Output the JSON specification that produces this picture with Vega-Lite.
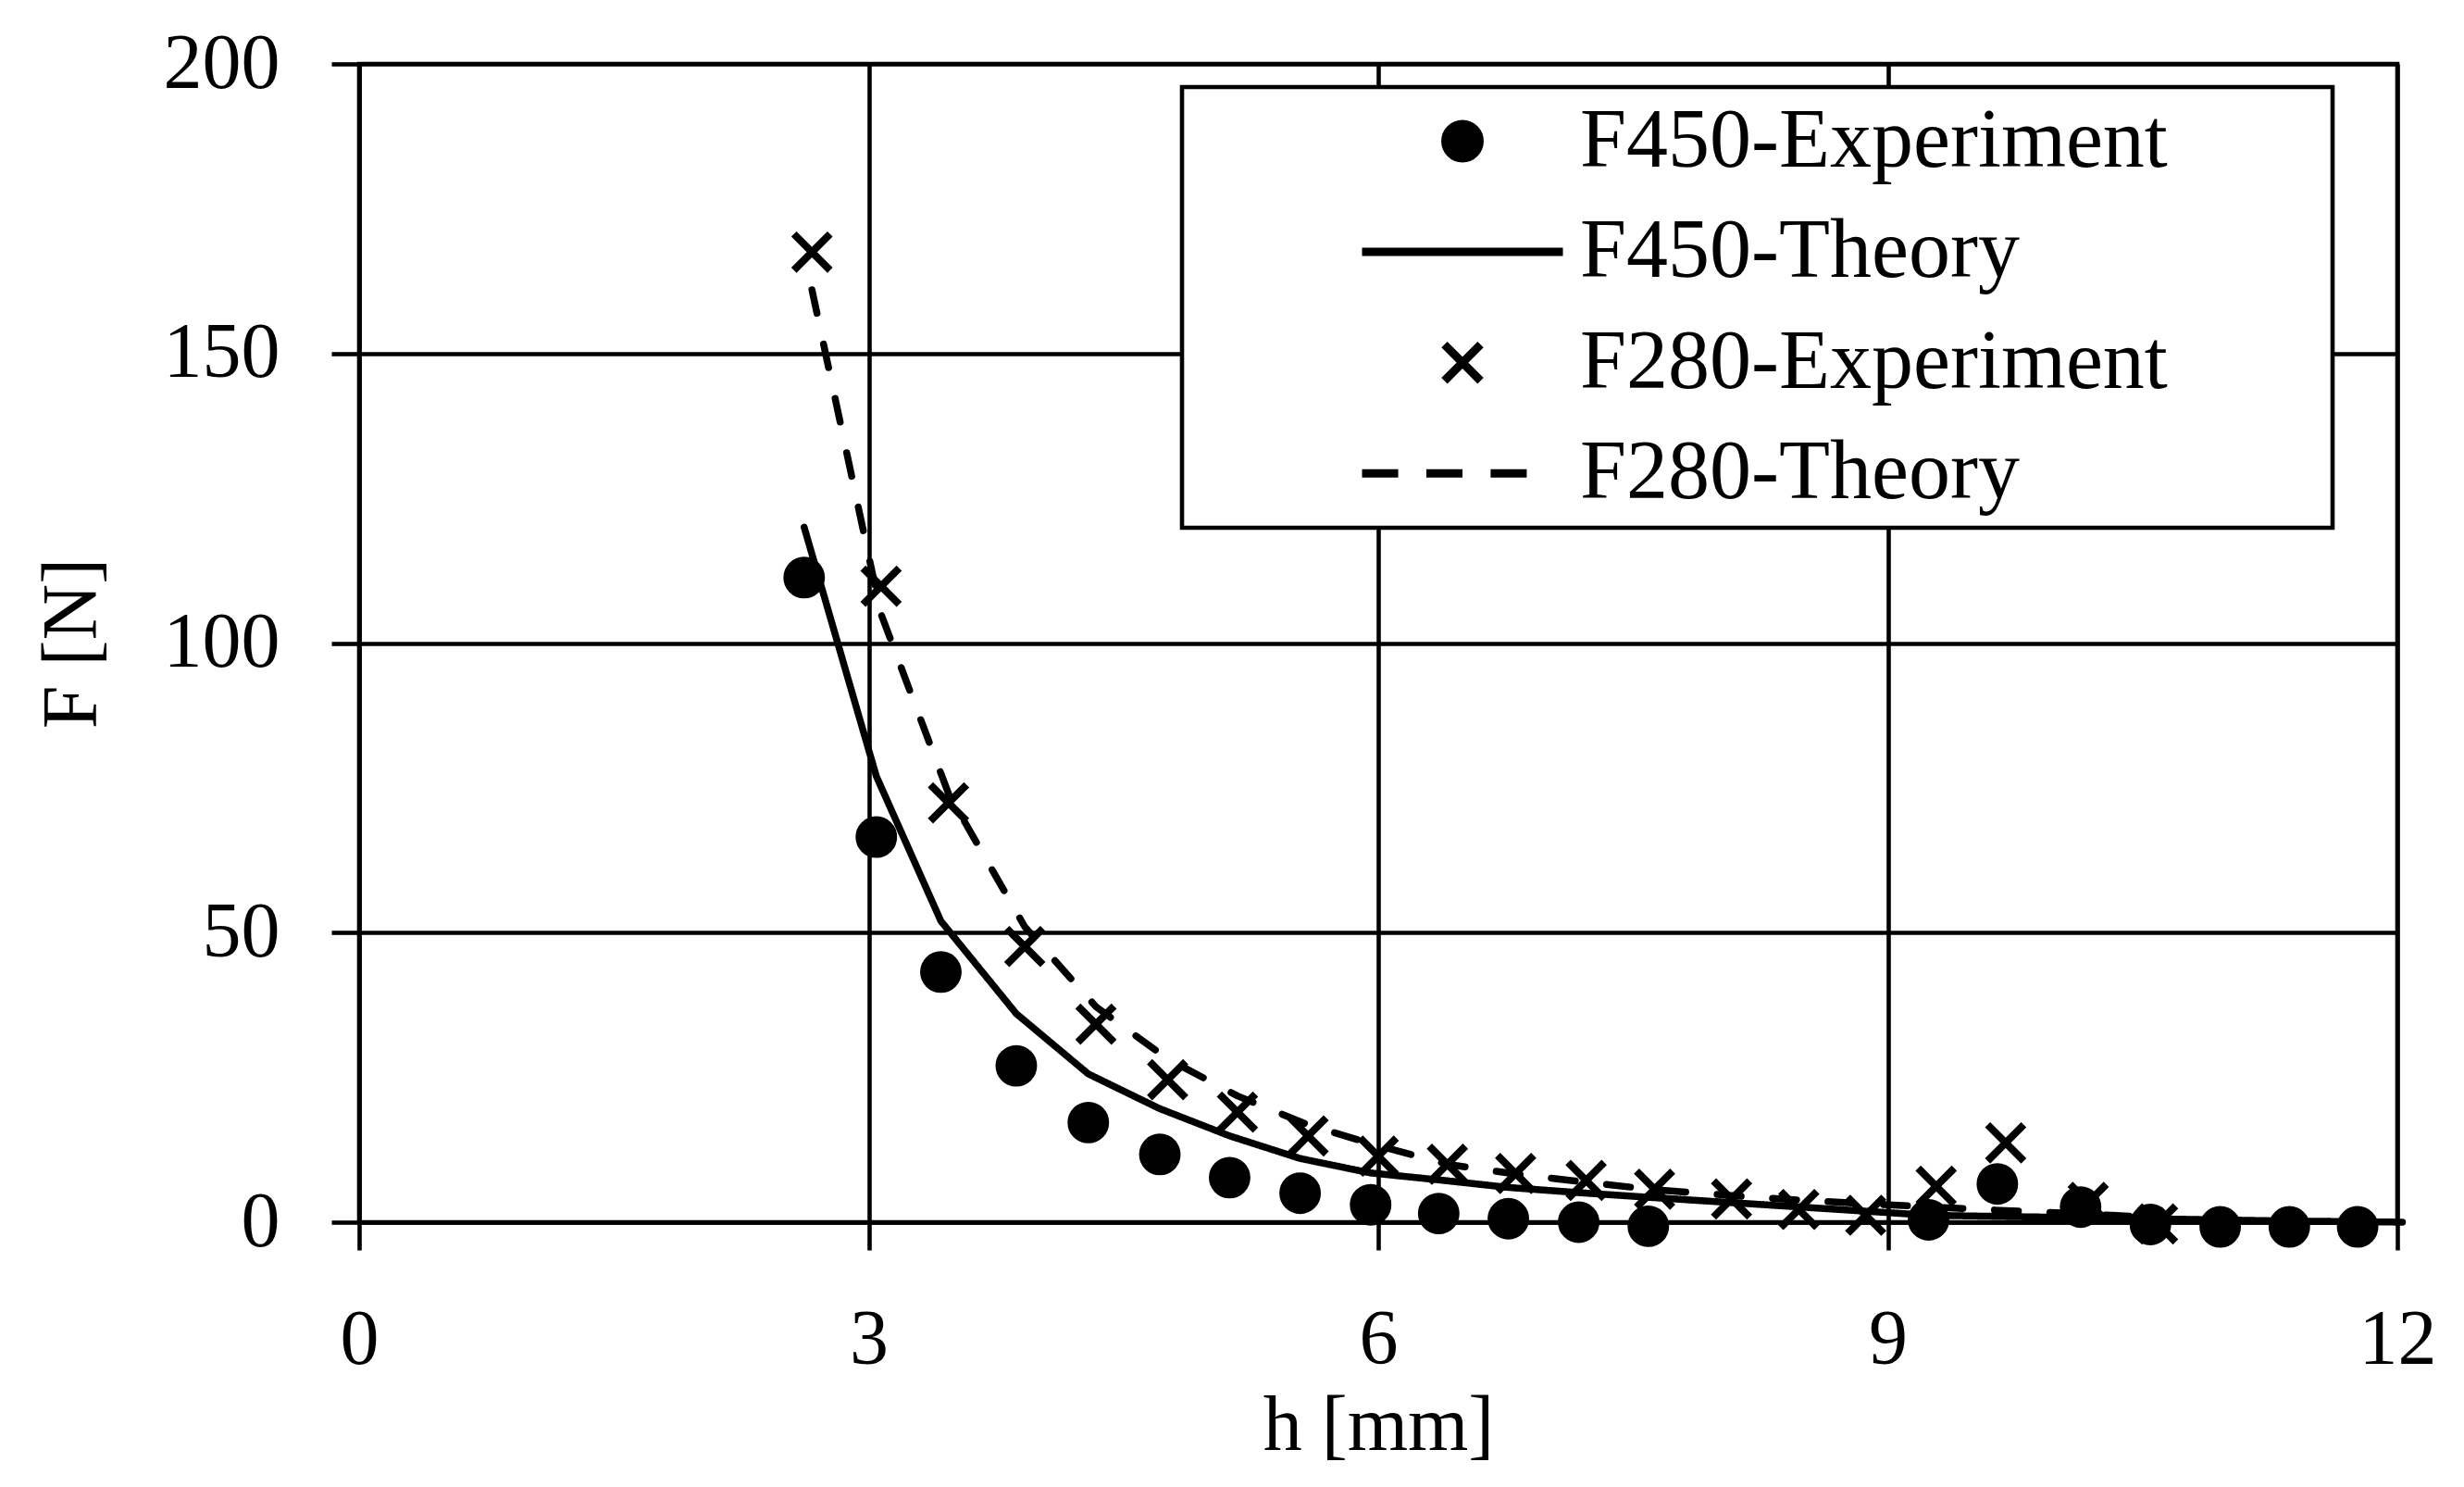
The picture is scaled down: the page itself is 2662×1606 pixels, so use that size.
{
  "$schema": "https://vega.github.io/schema/vega-lite/v6.json",
  "width": 2202,
  "height": 1251,
  "autosize": {"type": "none"},
  "padding": {"left": 388, "top": 69, "right": 72, "bottom": 286},
  "background": "white",
  "data": {
    "values": [
      {"series": "F450-Experiment", "h": 2.62, "F": 111.3},
      {"series": "F450-Experiment", "h": 3.045, "F": 66.5},
      {"series": "F450-Experiment", "h": 3.425, "F": 43.2},
      {"series": "F450-Experiment", "h": 3.869, "F": 27.0},
      {"series": "F450-Experiment", "h": 4.293, "F": 17.2},
      {"series": "F450-Experiment", "h": 4.714, "F": 11.7},
      {"series": "F450-Experiment", "h": 5.125, "F": 7.7},
      {"series": "F450-Experiment", "h": 5.54, "F": 5.0},
      {"series": "F450-Experiment", "h": 5.955, "F": 3.0},
      {"series": "F450-Experiment", "h": 6.356, "F": 1.5},
      {"series": "F450-Experiment", "h": 6.766, "F": 0.6},
      {"series": "F450-Experiment", "h": 7.18, "F": 0.0},
      {"series": "F450-Experiment", "h": 7.59, "F": -0.7},
      {"series": "F450-Experiment", "h": 9.24, "F": 0.4},
      {"series": "F450-Experiment", "h": 9.645, "F": 6.6},
      {"series": "F450-Experiment", "h": 10.135, "F": 2.6},
      {"series": "F450-Experiment", "h": 10.546, "F": -0.4},
      {"series": "F450-Experiment", "h": 10.957, "F": -0.8},
      {"series": "F450-Experiment", "h": 11.364, "F": -0.8},
      {"series": "F450-Experiment", "h": 11.766, "F": -0.8},
      {"series": "F280-Experiment", "h": 2.666, "F": 167.5},
      {"series": "F280-Experiment", "h": 3.073, "F": 109.8},
      {"series": "F280-Experiment", "h": 3.47, "F": 72.4},
      {"series": "F280-Experiment", "h": 3.919, "F": 47.6},
      {"series": "F280-Experiment", "h": 4.338, "F": 34.2},
      {"series": "F280-Experiment", "h": 4.76, "F": 24.6},
      {"series": "F280-Experiment", "h": 5.171, "F": 19.0},
      {"series": "F280-Experiment", "h": 5.587, "F": 14.9},
      {"series": "F280-Experiment", "h": 6.0, "F": 11.4},
      {"series": "F280-Experiment", "h": 6.407, "F": 10.0},
      {"series": "F280-Experiment", "h": 6.809, "F": 8.4},
      {"series": "F280-Experiment", "h": 7.224, "F": 7.2},
      {"series": "F280-Experiment", "h": 7.627, "F": 5.7},
      {"series": "F280-Experiment", "h": 8.08, "F": 4.0},
      {"series": "F280-Experiment", "h": 8.476, "F": 2.2},
      {"series": "F280-Experiment", "h": 8.87, "F": 1.2},
      {"series": "F280-Experiment", "h": 9.285, "F": 6.2},
      {"series": "F280-Experiment", "h": 9.694, "F": 13.7},
      {"series": "F280-Experiment", "h": 10.18, "F": 3.4},
      {"series": "F280-Experiment", "h": 10.588, "F": -0.3},
      {"series": "F450-Theory", "h": 2.62, "F": 120.0},
      {"series": "F450-Theory", "h": 3.045, "F": 77.0},
      {"series": "F450-Theory", "h": 3.425, "F": 52.0},
      {"series": "F450-Theory", "h": 3.869, "F": 36.0},
      {"series": "F450-Theory", "h": 4.293, "F": 25.6},
      {"series": "F450-Theory", "h": 4.714, "F": 19.6},
      {"series": "F450-Theory", "h": 5.125, "F": 14.9},
      {"series": "F450-Theory", "h": 5.54, "F": 11.0},
      {"series": "F450-Theory", "h": 5.955, "F": 8.5},
      {"series": "F450-Theory", "h": 6.356, "F": 7.3},
      {"series": "F450-Theory", "h": 6.766, "F": 6.0},
      {"series": "F450-Theory", "h": 7.18, "F": 5.1},
      {"series": "F450-Theory", "h": 7.59, "F": 4.3},
      {"series": "F450-Theory", "h": 9.24, "F": 1.2},
      {"series": "F450-Theory", "h": 9.645, "F": 1.0},
      {"series": "F450-Theory", "h": 10.135, "F": 0.8},
      {"series": "F450-Theory", "h": 10.546, "F": 0.6},
      {"series": "F450-Theory", "h": 10.957, "F": 0.4},
      {"series": "F450-Theory", "h": 11.364, "F": 0.2},
      {"series": "F450-Theory", "h": 11.766, "F": 0.1},
      {"series": "F450-Theory", "h": 12.03, "F": 0.0},
      {"series": "F280-Theory", "h": 2.666, "F": 161.0},
      {"series": "F280-Theory", "h": 3.073, "F": 105.0},
      {"series": "F280-Theory", "h": 3.47, "F": 74.0},
      {"series": "F280-Theory", "h": 3.919, "F": 51.0},
      {"series": "F280-Theory", "h": 4.338, "F": 37.2},
      {"series": "F280-Theory", "h": 4.76, "F": 28.2},
      {"series": "F280-Theory", "h": 5.171, "F": 21.8},
      {"series": "F280-Theory", "h": 5.587, "F": 16.8},
      {"series": "F280-Theory", "h": 6.0, "F": 13.2},
      {"series": "F280-Theory", "h": 6.407, "F": 10.0},
      {"series": "F280-Theory", "h": 6.809, "F": 8.3},
      {"series": "F280-Theory", "h": 7.224, "F": 6.9},
      {"series": "F280-Theory", "h": 7.627, "F": 5.6},
      {"series": "F280-Theory", "h": 8.08, "F": 4.6},
      {"series": "F280-Theory", "h": 8.476, "F": 3.8},
      {"series": "F280-Theory", "h": 8.87, "F": 3.2},
      {"series": "F280-Theory", "h": 9.285, "F": 2.6},
      {"series": "F280-Theory", "h": 9.694, "F": 2.0},
      {"series": "F280-Theory", "h": 10.18, "F": 1.4},
      {"series": "F280-Theory", "h": 10.588, "F": 0.8}
    ]
  },
  "encoding": {
    "x": {
      "field": "h",
      "type": "quantitative",
      "scale": {"domain": [0, 12], "nice": false, "zero": false},
      "axis": {"values": [0, 3, 6, 9, 12], "title": "h [mm]"}
    },
    "y": {
      "field": "F",
      "type": "quantitative",
      "scale": {"domain": [0, 200], "nice": false},
      "axis": {"values": [0, 50, 100, 150, 200], "title": "F [N]"}
    }
  },
  "layer": [
    {
      "transform": [{"filter": "test(/Theory/, datum.series)"}],
      "mark": {
        "type": "line",
        "color": "black",
        "strokeWidth": 7.5,
        "strokeCap": "round",
        "strokeJoin": "round"
      },
      "encoding": {
        "strokeDash": {
          "field": "series",
          "type": "nominal",
          "scale": {
            "domain": ["F450-Theory", "F280-Theory"],
            "range": [[1, 0], [26, 34]]
          },
          "legend": null
        }
      }
    },
    {
      "transform": [{"filter": "test(/Experiment/, datum.series)"}],
      "mark": {
        "type": "point",
        "filled": true,
        "fill": "black",
        "stroke": "black",
        "strokeWidth": 8,
        "opacity": 1,
        "size": 47089
      },
      "encoding": {
        "shape": {
          "field": "series",
          "type": "nominal",
          "scale": {
            "domain": ["F450-Experiment", "F450-Theory", "F280-Experiment", "F280-Theory"],
            "range": [
              "M0.17,0A0.17,0.17,0,1,1,-0.17,0A0.17,0.17,0,1,1,0.17,0Z",
              "M-1,0L1,0",
              "M-0.18,-0.18L0.18,0.18M-0.18,0.18L0.18,-0.18",
              "M-1,0L-0.64,0M-0.36,0L0,0M0.28,0L0.64,0"
            ]
          },
          "legend": {
            "title": "\u200b",
            "titleOrient": "right",
            "titleFontSize": 1,
            "titlePadding": 165,
            "orient": "none",
            "legendX": 889,
            "legendY": 25,
            "direction": "vertical",
            "padding": 13.5,
            "strokeColor": "black",
            "fillColor": "white",
            "symbolSize": 47089,
            "symbolStrokeWidth": 9,
            "symbolOpacity": 1,
            "symbolOffset": 176.5,
            "labelOffset": 14,
            "clipHeight": 90,
            "rowPadding": 29.6,
            "labelFont": "Liberation Serif",
            "labelFontSize": 90,
            "labelColor": "black",
            "labelLimit": 3000,
            "encode": {
              "legend": {"strokeWidth": {"value": 4.6}},
              "symbols": {
                "fill": {"value": "black"},
                "stroke": {"value": "black"},
                "strokeWidth": {"value": 9},
                "opacity": {"value": 1}
              }
            }
          }
        }
      }
    }
  ],
  "config": {
    "font": "Liberation Serif",
    "view": {"stroke": "black", "strokeWidth": 4.6},
    "legend": {"strokeWidth": 4.6},
    "axis": {
      "grid": true,
      "gridColor": "black",
      "gridWidth": 4.6,
      "gridOpacity": 1,
      "domainColor": "black",
      "domainWidth": 4.6,
      "tickColor": "black",
      "tickWidth": 4.6,
      "tickSize": 30,
      "labelFont": "Liberation Serif",
      "labelFontSize": 84,
      "labelColor": "black",
      "labelPadding": 56,
      "labelFlush": false,
      "titleFont": "Liberation Serif",
      "titleFontSize": 84,
      "titleFontWeight": "normal",
      "titleColor": "black"
    },
    "axisX": {"titlePadding": 10},
    "axisY": {"titlePadding": 67}
  }
}
